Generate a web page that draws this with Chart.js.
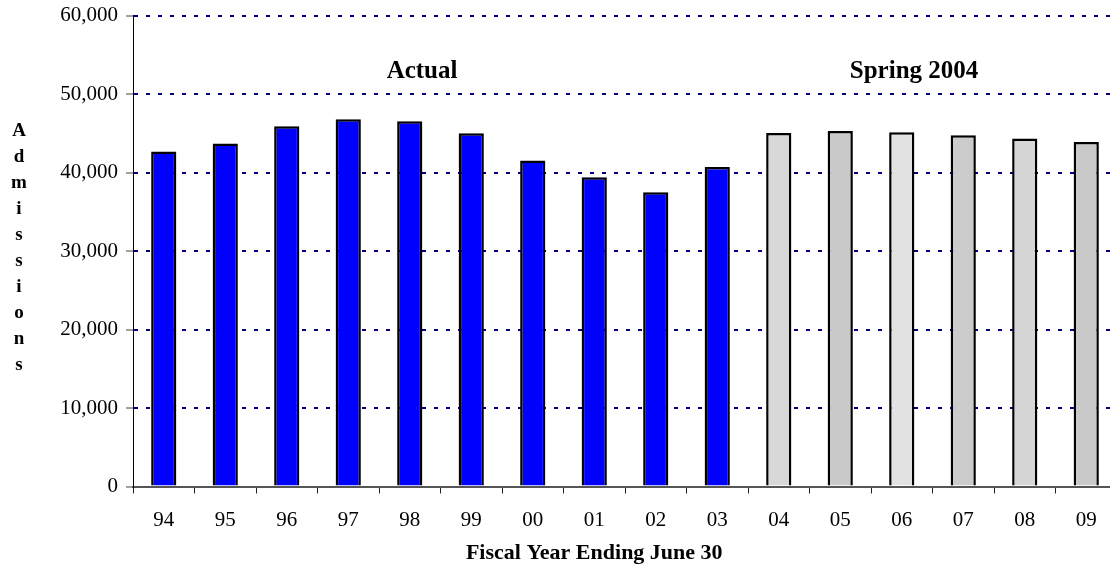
<!DOCTYPE html>
<html>
<head>
<meta charset="utf-8">
<script src="https://cdn.jsdelivr.net/npm/chart.js@4"></script>
<style>
  html, body { margin: 0; padding: 0; background: #fff; overflow: hidden; }
  #wrap { width: 1120px; height: 572px; position: relative; margin-top: -5px; }
</style>
</head>
<body>
<div id="wrap"><canvas id="chart"></canvas></div>
<script>
var years = ['94', '95', '96', '97', '98', '99', '00', '01', '02', '03', '04', '05', '06', '07', '08', '09'];
var actual = [42700, 43700, 45900, 46800, 46550, 45000, 41550, 39400, 37500, 40700, null, null, null, null, null, null];
var forecast = [null, null, null, null, null, null, null, null, null, null, 45050, 45300, 45150, 44750, 44350, 43900];
var yTicks = [0, 10000, 20000, 30000, 40000, 50000, 60000];
var groupLabels = ['Actual', 'Spring 2004'];
var yTitle = 'Admissions';
var xTitle = 'Fiscal Year Ending June 30';

var serif = '"Liberation Serif", "Times New Roman", serif';
var forecastFills = ['#d8d8d8', '#c9c9c9', '#e2e2e2', '#cbcbcb', '#d6d6d6', '#c9c9c9'];

var overlay = {
    id: 'overlay',
    afterDraw: function (chart) {
        var ctx = chart.ctx;
        var x = chart.scales.x;
        var y = chart.scales.y;
        ctx.save();
        ctx.fillStyle = '#000';
        ctx.textAlign = 'center';
        ctx.textBaseline = 'alphabetic';
        ctx.font = 'bold 25px ' + serif;
        ctx.fillText(groupLabels[0], x.getPixelForValue(4.2), y.getPixelForValue(52000));
        ctx.fillText(groupLabels[1], x.getPixelForValue(12.2), y.getPixelForValue(52000));

        // axis title under the ticks
        ctx.font = 'bold 22px ' + serif;
        ctx.fillText(xTitle, x.getPixelForValue(7), chart.chartArea.bottom + 72.5);

        // stacked vertical axis title
        ctx.font = 'bold 19px ' + serif;
        ctx.textBaseline = 'middle';
        var mid = (chart.chartArea.top + chart.chartArea.bottom) / 2 - 3;
        var step = 26.1;
        var start = mid - step * (yTitle.length - 1) / 2;
        for (var i = 0; i < yTitle.length; i++) {
            ctx.fillText(yTitle[i], 19, start + i * step);
        }
        ctx.restore();
    }
};

new Chart(document.getElementById('chart').getContext('2d'), {
    type: 'bar',
    data: {
        labels: years,
        datasets: [{
            label: 'Actual',
            data: actual,
            backgroundColor: '#0000ff',
            borderColor: '#000',
            borderWidth: 2.5,
            grouped: false
        }, {
            label: 'Spring 2004',
            data: forecast,
            backgroundColor: years.map(function (v, i) { return i < 10 ? '#ccc' : forecastFills[i - 10]; }),
            borderColor: '#000',
            borderWidth: 2.5,
            grouped: false
        }]
    },
    options: {
        responsive: true,
        maintainAspectRatio: false,
        animation: false,
        barPercentage: 0.41,
        categoryPercentage: 1,
        layout: { padding: { top: 10, right: 3, left: 0, bottom: 0 } },
        plugins: {
            legend: { display: false },
            tooltip: { enabled: false }
        },
        scales: {
            x: {
                grid: {
                    offset: true,
                    drawOnChartArea: false,
                    tickLength: 7,
                    tickColor: '#222',
                    tickWidth: 1
                },
                border: { color: '#555', width: 2 },
                ticks: {
                    color: '#000',
                    font: { family: serif, size: 21 },
                    padding: 14
                },
                afterFit: function (scale) { scale.height = 80.5; }
            },
            y: {
                min: 0,
                max: 60000,
                afterBuildTicks: function (scale) {
                    scale.ticks = yTicks.map(function (v) { return { value: v }; });
                },
                grid: {
                    color: function (c) { return c.tick && c.tick.value === 0 ? 'rgba(0,0,0,0)' : '#000080'; },
                    lineWidth: 2,
                    tickLength: 7,
                    tickColor: '#444',
                    tickWidth: 1
                },
                border: { color: '#000', width: 1, dash: [4, 8] },
                ticks: {
                    color: '#000',
                    font: { family: serif, size: 21 },
                    padding: 8,
                    callback: function (v) { return v.toLocaleString('en-US'); }
                },
                afterFit: function (scale) { scale.width = 133; }
            }
        }
    },
    plugins: [overlay]
});
</script>
</body>
</html>
